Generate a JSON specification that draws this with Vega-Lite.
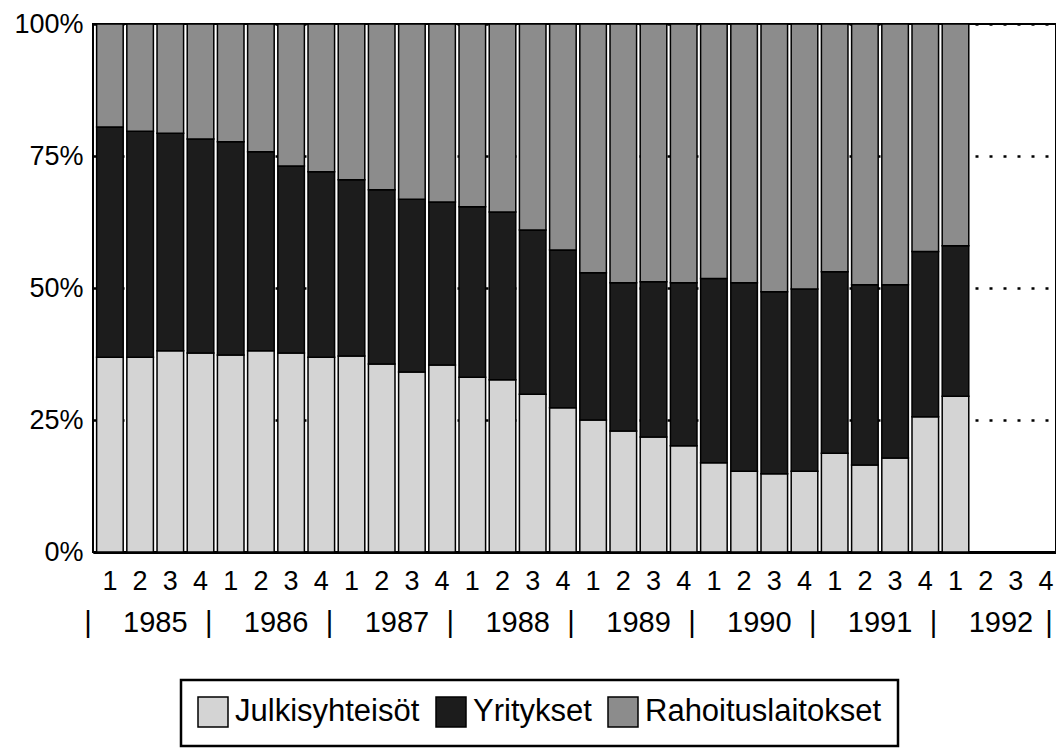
{
  "$schema": "https://vega.github.io/schema/vega-lite/v6.json",
  "width": 963,
  "height": 528,
  "autosize": {"type": "none"},
  "padding": {"left": 93, "top": 24, "right": 0, "bottom": 201},
  "background": "white",
  "config": {
    "view": {"stroke": "black", "strokeWidth": 2},
    "font": "Liberation Sans",
    "axis": {"labelFont": "Liberation Sans", "labelColor": "black", "domainColor": "black", "tickColor": "black"},
    "legend": {"strokeWidth": 2.5}
  },
  "datasets": {
    "sectors": [
      {"sector": "Julkisyhteisöt", "rank": 1},
      {"sector": "Yritykset", "rank": 2},
      {"sector": "Rahoituslaitokset", "rank": 3}
    ],
    "shares": [
      {"period": "1985-1", "sector": "Julkisyhteisöt", "share": 36.9}, {"period": "1985-1", "sector": "Yritykset", "share": 43.6}, {"period": "1985-1", "sector": "Rahoituslaitokset", "share": 19.5},
      {"period": "1985-2", "sector": "Julkisyhteisöt", "share": 36.9}, {"period": "1985-2", "sector": "Yritykset", "share": 42.8}, {"period": "1985-2", "sector": "Rahoituslaitokset", "share": 20.3},
      {"period": "1985-3", "sector": "Julkisyhteisöt", "share": 38.1}, {"period": "1985-3", "sector": "Yritykset", "share": 41.2}, {"period": "1985-3", "sector": "Rahoituslaitokset", "share": 20.7},
      {"period": "1985-4", "sector": "Julkisyhteisöt", "share": 37.7}, {"period": "1985-4", "sector": "Yritykset", "share": 40.5}, {"period": "1985-4", "sector": "Rahoituslaitokset", "share": 21.8},
      {"period": "1986-1", "sector": "Julkisyhteisöt", "share": 37.3}, {"period": "1986-1", "sector": "Yritykset", "share": 40.4}, {"period": "1986-1", "sector": "Rahoituslaitokset", "share": 22.3},
      {"period": "1986-2", "sector": "Julkisyhteisöt", "share": 38.1}, {"period": "1986-2", "sector": "Yritykset", "share": 37.7}, {"period": "1986-2", "sector": "Rahoituslaitokset", "share": 24.2},
      {"period": "1986-3", "sector": "Julkisyhteisöt", "share": 37.7}, {"period": "1986-3", "sector": "Yritykset", "share": 35.4}, {"period": "1986-3", "sector": "Rahoituslaitokset", "share": 26.9},
      {"period": "1986-4", "sector": "Julkisyhteisöt", "share": 36.9}, {"period": "1986-4", "sector": "Yritykset", "share": 35.1}, {"period": "1986-4", "sector": "Rahoituslaitokset", "share": 28.0},
      {"period": "1987-1", "sector": "Julkisyhteisöt", "share": 37.1}, {"period": "1987-1", "sector": "Yritykset", "share": 33.4}, {"period": "1987-1", "sector": "Rahoituslaitokset", "share": 29.5},
      {"period": "1987-2", "sector": "Julkisyhteisöt", "share": 35.6}, {"period": "1987-2", "sector": "Yritykset", "share": 33.0}, {"period": "1987-2", "sector": "Rahoituslaitokset", "share": 31.4},
      {"period": "1987-3", "sector": "Julkisyhteisöt", "share": 34.1}, {"period": "1987-3", "sector": "Yritykset", "share": 32.7}, {"period": "1987-3", "sector": "Rahoituslaitokset", "share": 33.2},
      {"period": "1987-4", "sector": "Julkisyhteisöt", "share": 35.4}, {"period": "1987-4", "sector": "Yritykset", "share": 30.9}, {"period": "1987-4", "sector": "Rahoituslaitokset", "share": 33.7},
      {"period": "1988-1", "sector": "Julkisyhteisöt", "share": 33.1}, {"period": "1988-1", "sector": "Yritykset", "share": 32.3}, {"period": "1988-1", "sector": "Rahoituslaitokset", "share": 34.6},
      {"period": "1988-2", "sector": "Julkisyhteisöt", "share": 32.6}, {"period": "1988-2", "sector": "Yritykset", "share": 31.8}, {"period": "1988-2", "sector": "Rahoituslaitokset", "share": 35.6},
      {"period": "1988-3", "sector": "Julkisyhteisöt", "share": 29.9}, {"period": "1988-3", "sector": "Yritykset", "share": 31.1}, {"period": "1988-3", "sector": "Rahoituslaitokset", "share": 39.0},
      {"period": "1988-4", "sector": "Julkisyhteisöt", "share": 27.3}, {"period": "1988-4", "sector": "Yritykset", "share": 29.9}, {"period": "1988-4", "sector": "Rahoituslaitokset", "share": 42.8},
      {"period": "1989-1", "sector": "Julkisyhteisöt", "share": 25.0}, {"period": "1989-1", "sector": "Yritykset", "share": 27.9}, {"period": "1989-1", "sector": "Rahoituslaitokset", "share": 47.1},
      {"period": "1989-2", "sector": "Julkisyhteisöt", "share": 22.9}, {"period": "1989-2", "sector": "Yritykset", "share": 28.1}, {"period": "1989-2", "sector": "Rahoituslaitokset", "share": 49.0},
      {"period": "1989-3", "sector": "Julkisyhteisöt", "share": 21.8}, {"period": "1989-3", "sector": "Yritykset", "share": 29.4}, {"period": "1989-3", "sector": "Rahoituslaitokset", "share": 48.8},
      {"period": "1989-4", "sector": "Julkisyhteisöt", "share": 20.1}, {"period": "1989-4", "sector": "Yritykset", "share": 30.9}, {"period": "1989-4", "sector": "Rahoituslaitokset", "share": 49.0},
      {"period": "1990-1", "sector": "Julkisyhteisöt", "share": 16.9}, {"period": "1990-1", "sector": "Yritykset", "share": 34.9}, {"period": "1990-1", "sector": "Rahoituslaitokset", "share": 48.2},
      {"period": "1990-2", "sector": "Julkisyhteisöt", "share": 15.3}, {"period": "1990-2", "sector": "Yritykset", "share": 35.7}, {"period": "1990-2", "sector": "Rahoituslaitokset", "share": 49.0},
      {"period": "1990-3", "sector": "Julkisyhteisöt", "share": 14.8}, {"period": "1990-3", "sector": "Yritykset", "share": 34.5}, {"period": "1990-3", "sector": "Rahoituslaitokset", "share": 50.7},
      {"period": "1990-4", "sector": "Julkisyhteisöt", "share": 15.3}, {"period": "1990-4", "sector": "Yritykset", "share": 34.5}, {"period": "1990-4", "sector": "Rahoituslaitokset", "share": 50.2},
      {"period": "1991-1", "sector": "Julkisyhteisöt", "share": 18.7}, {"period": "1991-1", "sector": "Yritykset", "share": 34.4}, {"period": "1991-1", "sector": "Rahoituslaitokset", "share": 46.9},
      {"period": "1991-2", "sector": "Julkisyhteisöt", "share": 16.5}, {"period": "1991-2", "sector": "Yritykset", "share": 34.1}, {"period": "1991-2", "sector": "Rahoituslaitokset", "share": 49.4},
      {"period": "1991-3", "sector": "Julkisyhteisöt", "share": 17.8}, {"period": "1991-3", "sector": "Yritykset", "share": 32.8}, {"period": "1991-3", "sector": "Rahoituslaitokset", "share": 49.4},
      {"period": "1991-4", "sector": "Julkisyhteisöt", "share": 25.6}, {"period": "1991-4", "sector": "Yritykset", "share": 31.3}, {"period": "1991-4", "sector": "Rahoituslaitokset", "share": 43.1},
      {"period": "1992-1", "sector": "Julkisyhteisöt", "share": 29.5}, {"period": "1992-1", "sector": "Yritykset", "share": 28.5}, {"period": "1992-1", "sector": "Rahoituslaitokset", "share": 42.0}
    ]
  },
  "data": {"name": "shares"},
  "transform": [
    {"lookup": "sector", "from": {"data": {"name": "sectors"}, "key": "sector", "fields": ["rank"]}}
  ],
  "layer": [
    {
      "mark": {"type": "bar", "stroke": "black", "strokeWidth": 1.5},
      "encoding": {
        "x": {
          "field": "period",
          "type": "ordinal",
          "scale": {
            "domain": ["1985-1","1985-2","1985-3","1985-4","1986-1","1986-2","1986-3","1986-4","1987-1","1987-2","1987-3","1987-4","1988-1","1988-2","1988-3","1988-4","1989-1","1989-2","1989-3","1989-4","1990-1","1990-2","1990-3","1990-4","1991-1","1991-2","1991-3","1991-4","1992-1","1992-2","1992-3","1992-4"],
            "range": [0, 970],
            "paddingInner": 0.12,
            "paddingOuter": 0.12
          },
          "axis": {
            "orient": "bottom",
            "title": null,
            "labelExpr": "slice(datum.value, -1)",
            "labelAngle": 0,
            "labelFontSize": 27,
            "labelPadding": 16,
            "ticks": false,
            "tickSize": 0,
            "domainWidth": 3,
            "domainColor": "black",
            "labelOverlap": false,
            "labelFlush": false
          }
        },
        "y": {
          "field": "share",
          "type": "quantitative",
          "stack": "normalize",
          "scale": {"domain": [0, 1], "nice": false},
          "axis": {
            "title": null,
            "values": [0, 0.25, 0.5, 0.75, 1],
            "format": ".0%",
            "labelFontSize": 27,
            "labelPadding": 10,
            "ticks": false,
            "tickSize": 0,
            "domain": false,
            "grid": true,
            "gridColor": "black",
            "gridDash": [3, 11],
            "gridWidth": 2.5,
            "gridOpacity": 1
          }
        },
        "color": {
          "field": "sector",
          "type": "nominal",
          "scale": {
            "domain": ["Julkisyhteisöt", "Yritykset", "Rahoituslaitokset"],
            "range": ["#d4d4d4", "#1c1c1c", "#8c8c8c"]
          },
          "legend": {
            "title": null,
            "orient": "none",
            "legendX": 88,
            "legendY": 656,
            "direction": "horizontal",
            "symbolType": "square",
            "symbolSize": 900,
            "symbolStrokeColor": "black",
            "symbolStrokeWidth": 1.5,
            "symbolOpacity": 1,
            "labelFontSize": 31,
            "labelFont": "Liberation Sans",
            "labelColor": "black",
            "labelOffset": 6,
            "labelLimit": 400,
            "columnPadding": 13,
            "padding": 16,
            "strokeColor": "black"
          }
        },
        "order": {"field": "rank", "type": "quantitative"}
      }
    },
    {
      "mark": {"type": "rule", "opacity": 0},
      "encoding": {
        "x": {
          "field": "period",
          "type": "ordinal",
          "axis": {
            "orient": "bottom",
            "title": null,
            "values": ["1985-1","1985-3","1986-1","1986-3","1987-1","1987-3","1988-1","1988-3","1989-1","1989-3","1990-1","1990-3","1991-1","1991-3","1992-1","1992-3","1992-4"],
            "labelExpr": "slice(datum.value, -1) == '3' ? slice(datum.value, 0, 4) : '|'",
            "labelOffset": {
              "condition": [
                {"test": "slice(datum.value, -1) == '3'", "value": -15},
                {"test": "slice(datum.value, -1) == '4'", "value": 3}
              ],
              "value": -22
            },
            "labelAngle": 0,
            "labelFontSize": 29,
            "labelPadding": 56,
            "ticks": false,
            "tickSize": 0,
            "domain": false,
            "grid": false,
            "labelOverlap": false,
            "labelFlush": false
          }
        }
      }
    }
  ],
  "resolve": {"axis": {"x": "independent"}}
}
